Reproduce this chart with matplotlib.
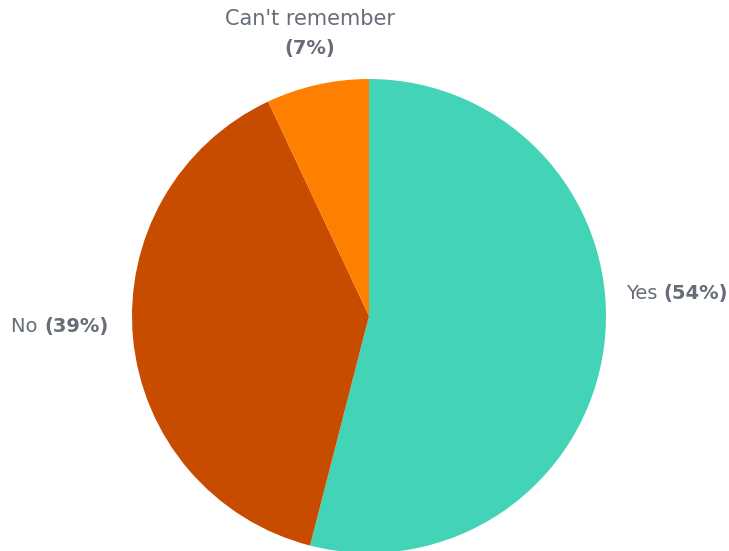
import matplotlib
matplotlib.use("Agg")
import matplotlib.pyplot as plt

categories = ["Yes", "No", "Can't remember"]
values = [54, 39, 7]
colors = ["#43d4b7", "#c74c00", "#ff8000"]

W, H = 729, 551
fig = plt.figure(figsize=(W / 100, H / 100), dpi=100)
cx, cy, r = 369, 316, 237
ax = fig.add_axes([(cx - r) / W, (H - cy - r) / H, 2 * r / W, 2 * r / H])

wedges, _ = ax.pie(values, colors=colors, startangle=90, counterclock=False,
                   radius=1, wedgeprops=dict(linewidth=0))
for w in wedges:
    w.set_clip_on(False)
ax.set_xlim(-1, 1)
ax.set_ylim(-1, 1)
ax.set_aspect("equal")
ax.axis("off")

grey = "#666d78"
fam = "DejaVu Sans"
fs = 14

# Yes label (left aligned)
t1 = ax.text(1.084, 0.093, categories[0] + " ", ha="left", va="center",
             fontsize=fs, color=grey, family=fam)
ax.annotate(f"({values[0]}%)", xy=(1, 0), xycoords=t1, ha="left", va="bottom",
            fontsize=fs, color=grey, family=fam, fontweight="bold")

# No label (right aligned)
t2 = ax.text(-1.10, -0.046, f"({values[1]}%)", ha="right", va="center",
             fontsize=fs, color=grey, family=fam, fontweight="bold")
ax.annotate(categories[1] + " ", xy=(0, 0), xycoords=t2, ha="right", va="bottom",
            fontsize=fs, color=grey, family=fam)

# Can't remember label (centered, two lines)
ax.text(-0.25, 1.254, categories[2], ha="center", va="center",
        fontsize=fs + 1, color=grey, family=fam)
ax.text(-0.25, 1.13, f"({values[2]}%)", ha="center", va="center",
        fontsize=fs, color=grey, family=fam, fontweight="bold")

fig.savefig("out.png", dpi=100)
